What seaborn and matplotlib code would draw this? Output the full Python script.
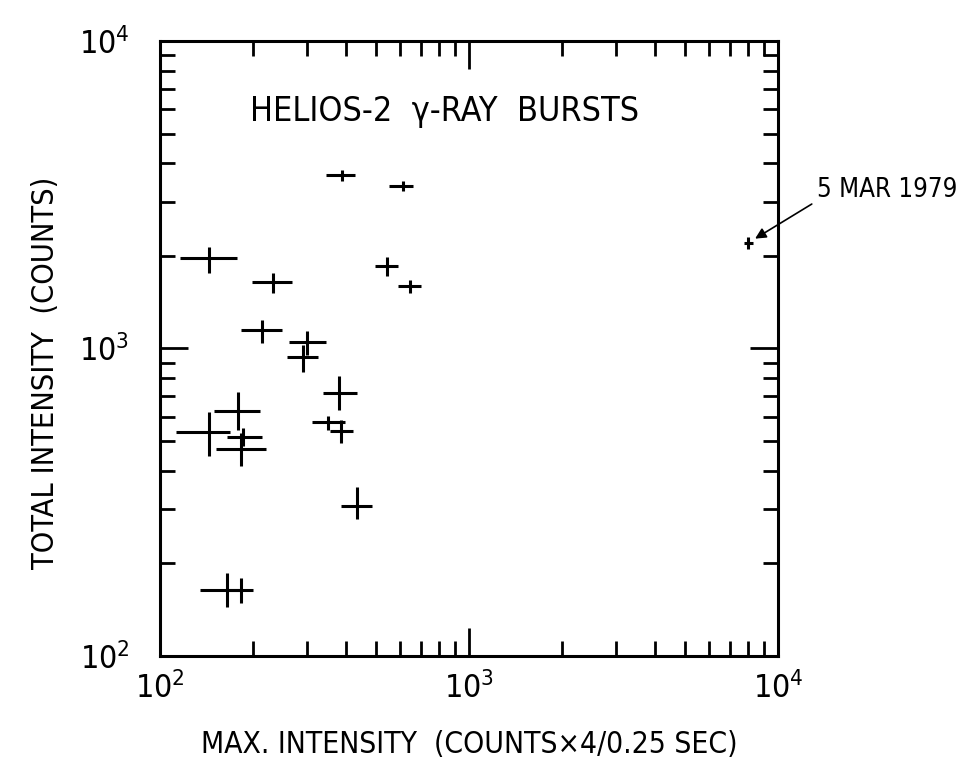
import numpy as np
import pandas as pd
import seaborn as sns
import matplotlib.pyplot as plt
from matplotlib.ticker import LogLocator, NullFormatter

# Helios-2 bursts: center values and error bar bounds
max_int = [388, 611, 144, 232, 543, 644, 214, 299, 290, 380, 350, 385, 434,
           179, 144, 186, 183, 165, 183, 8000]
max_lo = [344, 551, 116, 199, 497, 589, 183, 261, 258, 337, 310, 355, 385,
          150, 113, 165, 152, 135, 166, 7762]
max_hi = [428, 659, 177, 267, 589, 700, 248, 344, 324, 434, 397, 421, 485,
          211, 169, 214, 220, 181, 200, 8299]
tot_int = [3665, 3377, 1969, 1646, 1855, 1597, 1148, 1050, 938, 717, 577, 539,
           307, 626, 535, 515, 471, 164, 164, 2203]
tot_lo = [3508, 3252, 1762, 1514, 1722, 1514, 1043, 953, 839, 631, 543, 493,
          279, 543, 447, 482, 415, 144, 149, 2109]
tot_hi = [3802, 3508, 2139, 1762, 1986, 1671, 1239, 1141, 1026, 815, 603, 585,
          355, 722, 621, 551, 531, 186, 179, 2307]

df = pd.DataFrame({"max": max_int, "max_lo": max_lo, "max_hi": max_hi,
                   "tot": tot_int, "tot_lo": tot_lo, "tot_hi": tot_hi})

sns.set_theme(style="ticks")
plt.rcParams["font.family"] = ["DejaVu Sans"]
plt.rcParams["font.stretch"] = "condensed"
plt.rcParams["mathtext.fontset"] = "dejavusans"
plt.rcParams["text.color"] = "black"

fig = plt.figure(figsize=(9.61, 7.65), dpi=100)
ax = fig.add_axes([0.1665, 0.1425, 0.643, 0.804])

xerr = np.array([df["max"] - df["max_lo"], df["max_hi"] - df["max"]])
yerr = np.array([df["tot"] - df["tot_lo"], df["tot_hi"] - df["tot"]])
ax.errorbar(df["max"], df["tot"], xerr=xerr, yerr=yerr, fmt="none",
            ecolor="black", elinewidth=2.2, capsize=0)
sns.scatterplot(data=df, x="max", y="tot", ax=ax, color="black", s=5,
                linewidth=0, legend=False)

ax.set_xscale("log")
ax.set_yscale("log")
ax.set_xlim(100, 10000)
ax.set_ylim(100, 10000)

ax.xaxis.set_major_locator(LogLocator(base=10, numticks=10))
ax.yaxis.set_major_locator(LogLocator(base=10, numticks=10))
ax.xaxis.set_minor_locator(LogLocator(base=10, subs=np.arange(2, 10), numticks=20))
ax.yaxis.set_minor_locator(LogLocator(base=10, subs=np.arange(2, 10), numticks=20))
ax.xaxis.set_minor_formatter(NullFormatter())
ax.yaxis.set_minor_formatter(NullFormatter())

ax.tick_params(which="both", direction="in", top=True, right=True,
               color="black", labelsize=23, labelcolor="black")
ax.tick_params(which="major", length=20, width=2)
ax.tick_params(which="minor", length=11, width=2)
ax.tick_params(axis="x", which="major", pad=12)
ax.tick_params(axis="y", which="major", pad=22)
for s in ax.spines.values():
    s.set_linewidth(2.2)
    s.set_color("black")

ax.set_xlabel("MAX. INTENSITY  (COUNTS\u00d74/0.25 SEC)", fontsize=21.5,
              labelpad=18, color="black")
ax.set_ylabel("TOTAL INTENSITY  (COUNTS)", fontsize=22, color="black")
ax.yaxis.set_label_coords(-0.162, 0.46)

ax.text(0.145, 0.885, "HELIOS-2  \u03b3-RAY  BURSTS", transform=ax.transAxes,
        fontsize=24.5, ha="left", va="center", color="black")

ax.annotate("5 MAR 1979", xy=(max_int[-1], tot_int[-1]), xytext=(50, 38),
            textcoords="offset points", fontsize=18.5, ha="left", va="center",
            color="black", annotation_clip=False,
            arrowprops=dict(arrowstyle="-|>", color="black", lw=1.2,
                            mutation_scale=16, shrinkA=2, shrinkB=6,
                            relpos=(0, 0.1)))

plt.savefig("out.png", dpi=100, facecolor="white")
